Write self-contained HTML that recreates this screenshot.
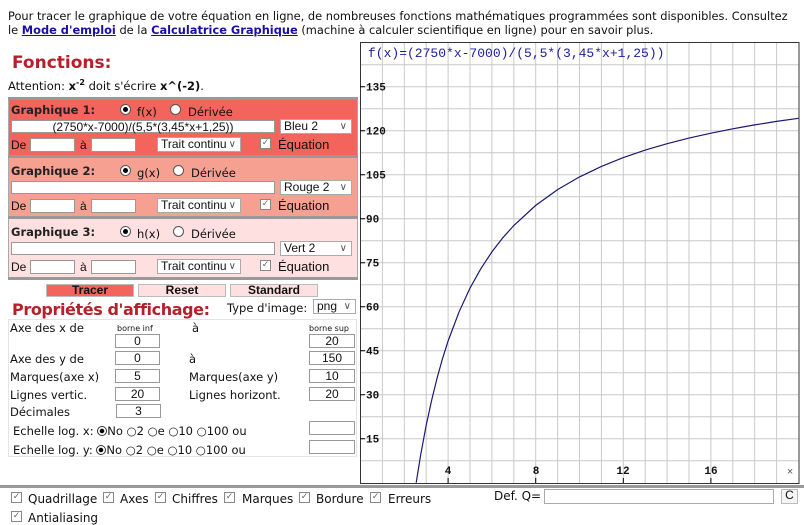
<!DOCTYPE html>
<html><head><meta charset="utf-8"><style>
*{box-sizing:border-box}
body{margin:0;width:804px;height:524px;background:#fff;position:relative;overflow:hidden;font-family:"DejaVu Sans",Verdana,sans-serif;font-size:11.5px;color:#111}
.a{position:absolute;white-space:nowrap}
.ar{font-family:"Liberation Sans",Arial,sans-serif}
.inp{position:absolute;background:#fff;border:1px solid #999;font-family:"Liberation Sans",Arial,sans-serif;font-size:12px;text-align:center;line-height:12px}
.sel{position:absolute;background:#fff;border:1px solid #aaa;font-family:"Liberation Sans",Arial,sans-serif;font-size:12px;padding-left:3px;line-height:13px}
.sel:after{content:"\2228";position:absolute;right:4px;top:0;font-size:10px;color:#555}
.bar{position:absolute;left:8px;width:350px;height:3px;background:#999}
.panel{position:absolute;left:8px;width:350px;border-left:1px solid #aaa;border-right:1px solid #aaa}
.rad{position:absolute;width:11px;height:11px;border:1px solid #555;border-radius:50%;background:#fff}
.rad.on:after{content:"";position:absolute;left:2px;top:2px;width:5px;height:5px;border-radius:50%;background:#000}
.chk{position:absolute;width:11px;height:11px;border:1px solid #888;background:#fff;font-size:9px;line-height:9px;text-align:center;color:#666}
.b{font-weight:bold}
.btn{position:absolute;height:13px;border:1px solid #bbb;font-family:"Liberation Sans",Arial,sans-serif;font-weight:bold;font-size:12px;text-align:center;line-height:11px}
a{color:#1a0dab;font-weight:bold;text-decoration:underline}
</style></head><body>
<div class="a" style="left:8px;top:9px;font-size:11.4px">Pour tracer le graphique de votre équation en ligne, de nombreuses fonctions mathématiques programmées sont disponibles. Consultez</div>
<div class="a" style="left:8px;top:23px;font-size:11.4px">le <a>Mode d'emploi</a> de la <a>Calculatrice Graphique</a> (machine à calculer scientifique en ligne) pour en savoir plus.</div>

<div class="a b" style="left:12px;top:53px;font-size:17px;color:#b5202a">Fonctions:</div>
<div class="a" style="left:8px;top:78px">Attention: <b>x<sup style="font-size:8px">-2</sup></b> doit s'écrire <b>x^(-2)</b>.</div>

<div class="bar" style="top:97px"></div>
<div class="panel" style="top:100px;height:55px;background:#f2645c"></div>
<div class="bar" style="top:155px"></div>
<div class="panel" style="top:158px;height:58px;background:#f5a090"></div>
<div class="bar" style="top:216px"></div>
<div class="panel" style="top:219px;height:58px;background:#fde0df"></div>
<div class="bar" style="top:277px"></div>

<!-- panel 1 -->
<div class="a b" style="left:11px;top:103px;color:#222">Graphique 1:</div>
<div class="rad on" style="left:120px;top:104px"></div><div class="a" style="left:137px;top:105px">f(x)</div>
<div class="rad" style="left:170px;top:104px"></div><div class="a" style="left:188px;top:105px">Dérivée</div>
<div class="inp" style="left:11px;top:120px;width:264px;height:13px">(2750*x-7000)/(5,5*(3,45*x+1,25))</div>
<div class="sel" style="left:280px;top:119px;width:72px;height:15px">Bleu 2</div>
<div class="a ar" style="left:11px;top:138px;font-size:12px">De</div>
<div class="inp" style="left:30px;top:138px;width:45px;height:14px"></div>
<div class="a ar" style="left:80px;top:138px;font-size:12px">à</div>
<div class="inp" style="left:91px;top:138px;width:45px;height:14px"></div>
<div class="sel" style="left:157px;top:137px;width:84px;height:15px">Trait continu</div>
<div class="chk" style="left:260px;top:138px">✓</div><div class="a ar" style="left:278px;top:137px;font-size:13px">Équation</div>
<!-- panel 2 -->
<div class="a b" style="left:11px;top:164px;color:#222">Graphique 2:</div>
<div class="rad on" style="left:120px;top:165px"></div><div class="a" style="left:137px;top:166px">g(x)</div>
<div class="rad" style="left:173px;top:165px"></div><div class="a" style="left:191px;top:166px">Dérivée</div>
<div class="inp" style="left:11px;top:181px;width:264px;height:13px"></div>
<div class="sel" style="left:280px;top:180px;width:72px;height:15px">Rouge 2</div>
<div class="a ar" style="left:11px;top:199px;font-size:12px">De</div>
<div class="inp" style="left:30px;top:199px;width:45px;height:14px"></div>
<div class="a ar" style="left:80px;top:199px;font-size:12px">à</div>
<div class="inp" style="left:91px;top:199px;width:45px;height:14px"></div>
<div class="sel" style="left:157px;top:198px;width:84px;height:15px">Trait continu</div>
<div class="chk" style="left:260px;top:199px">✓</div><div class="a ar" style="left:278px;top:198px;font-size:13px">Équation</div>
<!-- panel 3 -->
<div class="a b" style="left:11px;top:225px;color:#222">Graphique 3:</div>
<div class="rad on" style="left:120px;top:226px"></div><div class="a" style="left:137px;top:227px">h(x)</div>
<div class="rad" style="left:173px;top:226px"></div><div class="a" style="left:191px;top:227px">Dérivée</div>
<div class="inp" style="left:11px;top:242px;width:264px;height:13px"></div>
<div class="sel" style="left:280px;top:241px;width:72px;height:15px">Vert 2</div>
<div class="a ar" style="left:11px;top:260px;font-size:12px">De</div>
<div class="inp" style="left:30px;top:260px;width:45px;height:14px"></div>
<div class="a ar" style="left:80px;top:260px;font-size:12px">à</div>
<div class="inp" style="left:91px;top:260px;width:45px;height:14px"></div>
<div class="sel" style="left:157px;top:259px;width:84px;height:15px">Trait continu</div>
<div class="chk" style="left:260px;top:260px">✓</div><div class="a ar" style="left:278px;top:259px;font-size:13px">Équation</div>

<div class="btn" style="left:46px;top:284px;width:88px;background:#f2645c">Tracer</div>
<div class="btn" style="left:138px;top:284px;width:88px;background:#fde0df">Reset</div>
<div class="btn" style="left:230px;top:284px;width:88px;background:#fde0df">Standard</div>

<div class="a b" style="left:12px;top:300px;font-size:16px;letter-spacing:-0.4px;color:#b5202a">Propriétés d'affichage:</div>
<div class="a" style="left:227px;top:301px">Type d'image:</div>
<div class="sel" style="left:313px;top:299px;width:43px;height:15px">png</div>

<div style="position:absolute;left:8px;top:319px;width:349px;height:138px;border:1px solid #e4e4e4"></div>
<div class="a" style="left:10px;top:321px">Axe des x de</div>
<div class="a" style="left:117px;top:324px;font-size:8px">borne inf</div>
<div class="a" style="left:192px;top:321px">à</div>
<div class="a" style="left:309px;top:324px;font-size:8px">borne sup</div>
<div class="inp" style="left:115px;top:334px;width:45px;height:14px">0</div>
<div class="inp" style="left:309px;top:334px;width:46px;height:14px">20</div>
<div class="a" style="left:10px;top:352px">Axe des y de</div>
<div class="inp" style="left:115px;top:351px;width:45px;height:14px">0</div>
<div class="a" style="left:189px;top:352px">à</div>
<div class="inp" style="left:309px;top:351px;width:46px;height:14px">150</div>
<div class="a" style="left:10px;top:370px">Marques(axe x)</div>
<div class="inp" style="left:115px;top:369px;width:45px;height:14px">5</div>
<div class="a" style="left:189px;top:370px">Marques(axe y)</div>
<div class="inp" style="left:309px;top:369px;width:46px;height:14px">10</div>
<div class="a" style="left:10px;top:388px">Lignes vertic.</div>
<div class="inp" style="left:115px;top:387px;width:45px;height:14px">20</div>
<div class="a" style="left:189px;top:388px">Lignes horizont.</div>
<div class="inp" style="left:309px;top:387px;width:46px;height:14px">20</div>
<div class="a" style="left:10px;top:405px">Décimales</div>
<div class="inp" style="left:116px;top:404px;width:45px;height:14px">3</div>
<div class="a" style="left:13px;top:424px">Echelle log. x: <span style="display:inline-block;width:10px;height:10px;border:1px solid #333;border-radius:50%;background:radial-gradient(#000 35%,#fff 45%);vertical-align:-1px"></span>No ○2 ○e ○10 ○100 ou</div>
<div class="inp" style="left:309px;top:421px;width:46px;height:14px"></div>
<div class="a" style="left:13px;top:443px">Echelle log. y: <span style="display:inline-block;width:10px;height:10px;border:1px solid #333;border-radius:50%;background:radial-gradient(#000 35%,#fff 45%);vertical-align:-1px"></span>No ○2 ○e ○10 ○100 ou</div>
<div class="inp" style="left:309px;top:440px;width:46px;height:14px"></div>

<!-- chart -->
<svg class="a" style="left:0;top:0" width="804" height="524">
<g stroke="#c9c9c9" stroke-width="1">
<path d="M382.4 43V483M404.3 43V483M426.2 43V483M448.1 43V483M470 43V483M491.9 43V483M513.8 43V483M535.7 43V483M557.6 43V483M579.5 43V483M601.4 43V483M623.3 43V483M645.2 43V483M667.1 43V483M689 43V483M710.9 43V483M732.8 43V483M754.7 43V483M776.6 43V483"/>
<path d="M360 460.7H799M360 438.7H799M360 416.7H799M360 394.7H799M360 372.7H799M360 350.7H799M360 328.7H799M360 306.7H799M360 284.7H799M360 262.7H799M360 240.7H799M360 218.7H799M360 196.7H799M360 174.7H799M360 152.7H799M360 130.7H799M360 108.7H799M360 86.7H799M360 64.7H799"/>
</g>
<rect x="360.5" y="42.5" width="438.5" height="441" fill="none" stroke="#333" stroke-width="1"/>
<g stroke="#000"><path d="M360 86.7h5M360 130.7h5M360 174.7h5M360 218.7h5M360 262.7h5M360 306.7h5M360 350.7h5M360 394.7h5M360 438.7h5M448.1 478V483M535.7 478V483M623.3 478V483M710.9 478V483"/></g>
<g font-family="Liberation Mono,monospace" font-weight="bold" font-size="11" fill="#111">
<text x="366" y="90.5">135</text><text x="366" y="134.5">120</text><text x="366" y="178.5">105</text><text x="366" y="222.5">90</text><text x="366" y="266.5">75</text><text x="366" y="310.5">60</text><text x="366" y="354.5">45</text><text x="366" y="398.5">30</text><text x="366" y="442.5">15</text>
<text x="448" y="474" text-anchor="middle">4</text><text x="536" y="474" text-anchor="middle">8</text><text x="623" y="474" text-anchor="middle">12</text><text x="711" y="474" text-anchor="middle">16</text>
<text x="790" y="475" text-anchor="middle" font-weight="normal" fill="#555">×</text>
</g>
<text x="368" y="57" font-family="Liberation Mono,monospace" font-size="13" fill="#1c1ca0">f(x)=(2750*x-7000)/(5,5*(3,45*x+1,25))</text>
<polyline fill="none" stroke="#1a1a70" stroke-width="1.2" points="416.2,482.7 420.7,454.7 426.2,425.2 431.7,400 437.2,377.6 442.6,358.3 448.1,341 459.1,311.8 470,288.1 480.9,268.6 491.9,251.9 502.8,237.8 513.8,225.5 535.7,205.4 557.6,189.6 579.5,176.9 601.4,166.4 623.3,157.6 645.2,150.1 667.1,143.7 689,138.1 710.9,133.2 732.8,128.8 754.7,124.9 776.6,121.4 798.5,118.3"/>
<rect x="0" y="485" width="804" height="3" fill="#999"/>
</svg>

<div class="chk" style="left:11px;top:492px">✓</div>
<div class="a" style="left:28px;top:492px;font-size:12px">Quadrillage</div>
<div class="chk" style="left:103px;top:492px">✓</div>
<div class="a" style="left:120px;top:492px;font-size:12px">Axes</div>
<div class="chk" style="left:155px;top:492px">✓</div>
<div class="a" style="left:172px;top:492px;font-size:12px">Chiffres</div>
<div class="chk" style="left:224px;top:492px">✓</div>
<div class="a" style="left:242px;top:492px;font-size:12px">Marques</div>
<div class="chk" style="left:299px;top:492px">✓</div>
<div class="a" style="left:316px;top:492px;font-size:12px">Bordure</div>
<div class="chk" style="left:370px;top:492px">✓</div>
<div class="a" style="left:388px;top:492px;font-size:12px">Erreurs</div>
<div class="chk" style="left:11px;top:511px">✓</div>
<div class="a" style="left:28px;top:511px;font-size:12px">Antialiasing</div>
<div class="a" style="left:494px;top:489px;font-size:12px">Def. Q=</div>
<div class="inp" style="left:544px;top:489px;width:230px;height:15px;border-color:#aaa"></div>
<div class="btn" style="left:781px;top:489px;width:17px;height:15px;font-weight:normal;background:#f4f4f4">C</div>
</body></html>
